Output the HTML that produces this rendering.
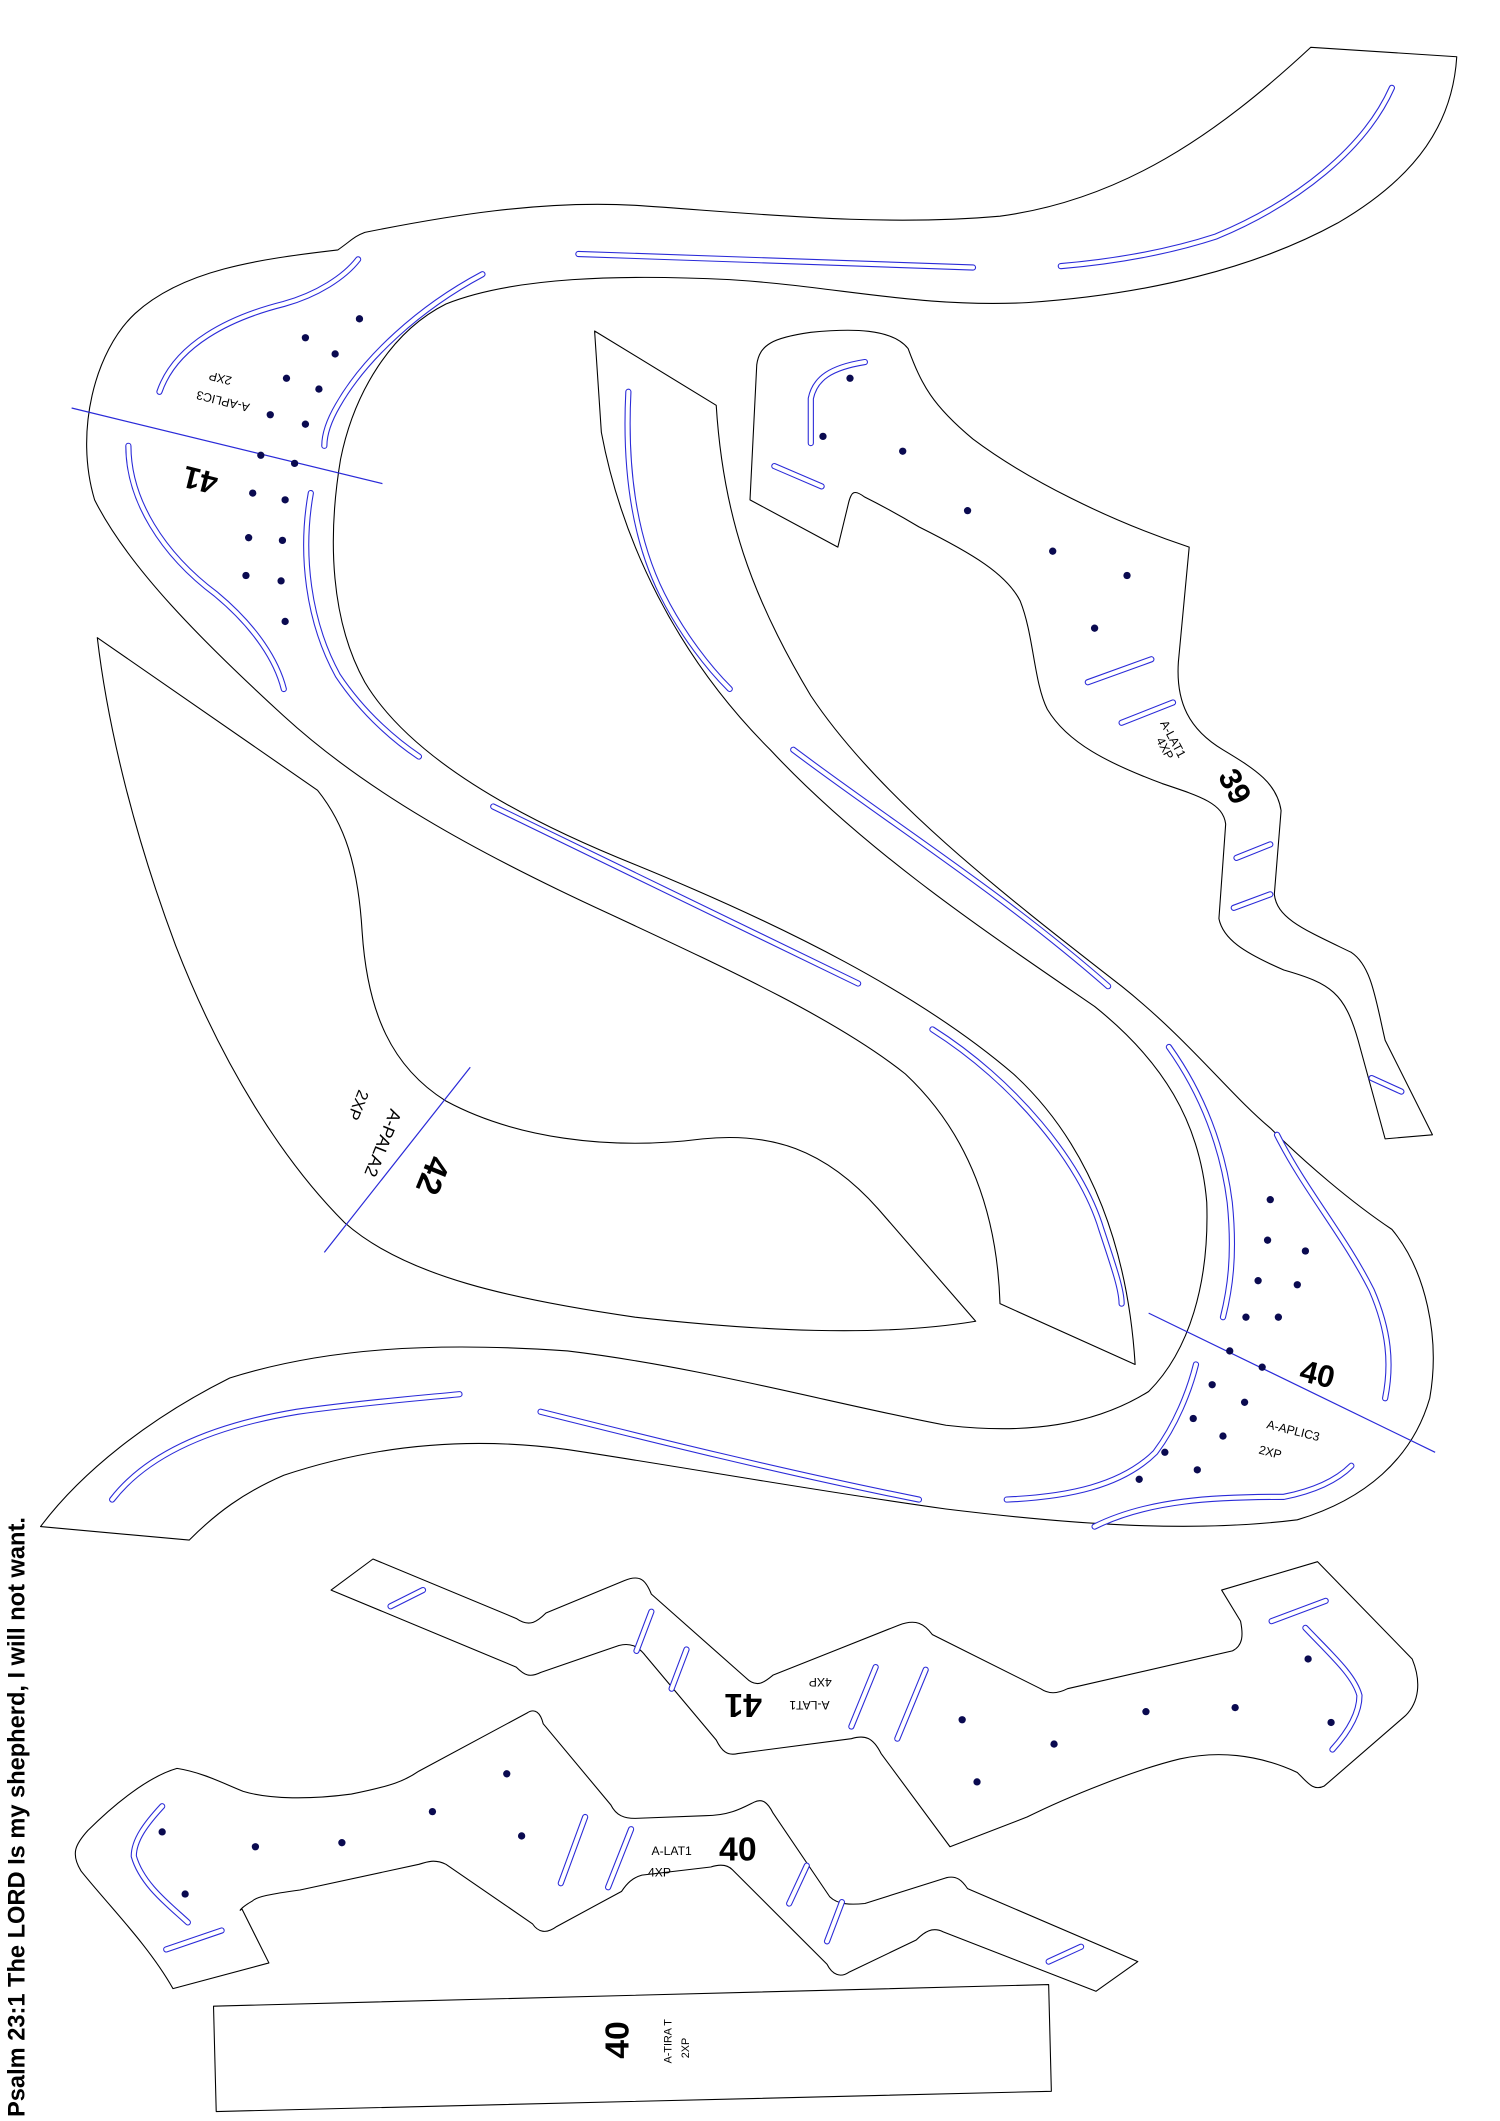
<!DOCTYPE html>
<html><head><meta charset="utf-8"><style>
html,body{margin:0;padding:0;background:#fff;}
svg{display:block;}
text{font-family:"Liberation Sans",Arial,sans-serif;fill:#000;}
</style></head><body>
<svg width="1500" height="2121" viewBox="0 0 1110 1570" preserveAspectRatio="none" xmlns="http://www.w3.org/2000/svg" xmlns:xlink="http://www.w3.org/1999/xlink">
<defs>
<g id="slots" fill="none" stroke-linecap="round" stroke-linejoin="round">
<path d="M1030,65 C1010,110 960,150 900,175 C860,188 820,194 785,197"/>
<path d="M428,188 L720,198"/>
<path d="M118,290 C130,255 170,235 210,225 C235,218 255,205 265,192"/>
<path d="M357,203 C310,228 270,265 250,300 C243,312 240,322 240,330"/>
<path d="M95,330 C95,370 120,410 160,440 C190,465 205,490 210,510"/>
<path d="M230,365 C222,410 228,460 250,500 C270,530 295,550 310,560"/>
<path d="M365,597 L635,728"/>
<path d="M690,762 C750,800 800,860 815,910 C825,940 830,955 830,965"/>
<path d="M83,1110 C110,1075 160,1055 220,1045 C270,1038 310,1035 340,1032"/>
<path d="M400,1045 C480,1065 580,1090 680,1110"/>
<path d="M745,1110 C790,1108 830,1100 855,1075 C870,1055 880,1030 885,1010"/>
<path d="M810,1130 C850,1110 900,1108 950,1108 C975,1103 990,1095 1000,1085"/>
<path d="M945,840 C965,880 995,915 1015,955 C1028,985 1030,1010 1025,1035"/>
<path d="M865,775 C890,810 905,850 910,890 C914,930 910,955 905,975"/>
<path d="M587,555 C660,610 740,660 820,730"/>
<path d="M465,290 C462,350 470,400 490,440 C505,470 525,495 540,510"/>
<path d="M640,268 C615,272 603,280 600,295 L600,328"/>
<path d="M573,345 L608,360"/>
<path d="M805,505 L852,488"/>
<path d="M830,535 L868,520"/>
<path d="M915,635 L940,625"/>
<path d="M913,672 L940,662"/>
<path d="M1015,798 L1037,808"/>
<path d="M289,1189 L313,1177"/>
<path d="M471,1222 L482,1193"/>
<path d="M497,1250 L508,1221"/>
<path d="M630,1278 L648,1234"/>
<path d="M664,1287 L685,1236"/>
<path d="M941,1200 L981,1185"/>
<path d="M966,1205 C985,1225 1002,1240 1006,1255 C1006,1270 995,1285 986,1295"/>
<path d="M120,1337 C108,1350 99,1362 99,1374 C105,1395 125,1410 139,1423"/>
<path d="M123,1443 L164,1429"/>
<path d="M415,1394 L433,1345"/>
<path d="M450,1397 L467,1354"/>
<path d="M584,1409 L597,1381"/>
<path d="M612,1437 L623,1408"/>
<path d="M776,1452 L800,1441"/>
</g>
</defs>
<g fill="none" stroke="#000" stroke-width="0.8" stroke-linejoin="round">
<path d="M970,35 L1078,42 C1075,90 1050,130 990,165 C930,198 850,218 760,224 C680,228 620,212 540,207 C460,203 380,205 330,225 C290,245 262,290 252,340 C242,400 245,460 270,505 C300,555 370,600 470,640 C580,685 680,735 750,795 C810,850 835,930 840,1010 L740,965 C738,900 718,840 670,795 C620,755 540,718 450,676 C350,630 270,585 210,530 C150,475 95,420 70,370 C55,320 70,260 100,232 C135,200 190,192 250,185 C260,178 262,175 270,172 C330,160 400,148 470,152 C560,158 650,168 740,160 C830,148 900,100 970,35 Z"/>
<path d="M30,1130 C60,1090 110,1050 170,1020 C240,998 320,993 420,1000 C520,1012 620,1040 700,1055 C760,1062 810,1055 850,1030 C880,1000 895,950 893,890 C888,830 860,785 810,745 C730,690 640,630 570,555 C500,485 460,400 445,320 L440,245 L530,300 C535,380 555,440 600,515 C650,590 740,660 830,730 C880,770 910,810 940,835 C965,860 1000,890 1030,910 C1055,940 1066,990 1058,1035 C1045,1080 1010,1110 960,1125 C880,1135 790,1128 700,1117 C600,1103 500,1085 420,1073 C340,1062 270,1072 210,1092 C180,1105 160,1120 140,1140 Z"/>
<path d="M555,370 L560,270 C562,255 572,250 600,246 C630,243 660,243 672,258 C682,285 690,300 720,325 C760,355 820,385 880,405 L872,490 C870,520 880,540 905,555 C930,570 945,580 948,600 L943,662 C945,680 965,688 1000,705 C1015,715 1018,740 1025,770 L1060,840 L1025,843 L1005,770 C995,735 985,728 950,718 C920,705 905,695 902,680 L907,610 C905,595 890,590 860,580 C820,565 790,550 775,525 C765,505 765,470 755,445 C745,425 720,410 680,390 C660,378 648,372 640,368 C632,362 630,364 628,372 L620,405 Z"/>
<path d="M72,472 L235,585 C255,610 265,640 268,690 C272,750 290,790 330,815 C380,842 450,852 520,843 C570,838 610,850 650,895 L722,978 C650,990 560,985 470,975 C380,962 300,945 255,905 C210,860 165,790 130,700 C100,620 80,540 72,472 Z"/>
<path d="M276,1154 L382,1198 C392,1205 398,1200 404,1194 L462,1170 C474,1165 478,1170 482,1180 L552,1242 C560,1250 566,1245 572,1240 L665,1203 C678,1198 684,1202 690,1210 L770,1250 C776,1254 782,1254 790,1250 L912,1222 C920,1218 920,1210 918,1200 L904,1177 L975,1156 L1045,1228 C1052,1245 1050,1260 1040,1270 L980,1322 C972,1326 968,1320 960,1312 C930,1298 900,1296 873,1302 C840,1310 790,1330 760,1345 L703,1367 L652,1298 C646,1286 640,1284 630,1287 L546,1298 C538,1300 534,1296 530,1288 L478,1226 C472,1218 466,1216 458,1218 L400,1238 C392,1242 388,1240 382,1234 L245,1177 Z"/>
<path d="M131,1309 C150,1312 165,1320 180,1326 C200,1332 230,1332 260,1328 C290,1322 300,1318 310,1311 L390,1268 C396,1264 400,1268 402,1276 L452,1336 C456,1344 462,1346 470,1346 L522,1344 C540,1344 550,1338 558,1334 C564,1331 568,1334 572,1342 L614,1404 C620,1410 630,1410 640,1409 L700,1390 C708,1388 712,1392 716,1398 L842,1452 L811,1474 L698,1430 C690,1426 684,1430 678,1436 L628,1460 C622,1464 616,1462 612,1454 L542,1384 C538,1380 532,1380 526,1382 L475,1388 C468,1390 464,1394 460,1400 L412,1426 C404,1432 398,1430 394,1424 L330,1380 C322,1376 316,1378 310,1380 L222,1399 C200,1402 190,1404 187,1407 C178,1412 176,1416 179,1413 L199,1453 L128,1472 C110,1440 80,1410 60,1385 C52,1372 56,1365 65,1355 C85,1335 110,1315 131,1309 Z"/>
<path d="M158,1485 L776,1469 L778,1548 L160,1563 Z"/>
</g>

<use href="#slots" xlink:href="#slots" stroke="#2a2ad8" stroke-width="4.6"/>
<use href="#slots" xlink:href="#slots" stroke="#fff" stroke-width="3"/>

<g stroke="#2a2ad8" stroke-width="0.9">
<line x1="53" y1="302" x2="283" y2="358"/>
<line x1="850" y1="972" x2="1062" y2="1075"/>
<line x1="348" y1="790" x2="240" y2="927"/>
</g>

<g fill="#0a0a50">
<circle cx="226" cy="250" r="2.7"/><circle cx="266" cy="236" r="2.7"/><circle cx="248" cy="262" r="2.7"/>
<circle cx="212" cy="280" r="2.7"/><circle cx="236" cy="288" r="2.7"/><circle cx="200" cy="307" r="2.7"/>
<circle cx="226" cy="314" r="2.7"/><circle cx="193" cy="337" r="2.7"/><circle cx="218" cy="343" r="2.7"/>
<circle cx="187" cy="365" r="2.7"/><circle cx="211" cy="370" r="2.7"/><circle cx="184" cy="398" r="2.7"/>
<circle cx="209" cy="400" r="2.7"/><circle cx="182" cy="426" r="2.7"/><circle cx="208" cy="430" r="2.7"/>
<circle cx="211" cy="460" r="2.7"/>
<circle cx="940" cy="888" r="2.7"/><circle cx="938" cy="918" r="2.7"/><circle cx="966" cy="926" r="2.7"/>
<circle cx="931" cy="948" r="2.7"/><circle cx="960" cy="951" r="2.7"/><circle cx="922" cy="975" r="2.7"/>
<circle cx="946" cy="975" r="2.7"/><circle cx="910" cy="1000" r="2.7"/><circle cx="934" cy="1012" r="2.7"/>
<circle cx="897" cy="1025" r="2.7"/><circle cx="921" cy="1038" r="2.7"/><circle cx="883" cy="1050" r="2.7"/>
<circle cx="905" cy="1063" r="2.7"/><circle cx="862" cy="1075" r="2.7"/><circle cx="886" cy="1088" r="2.7"/>
<circle cx="843" cy="1095" r="2.7"/>
<circle cx="629" cy="280" r="2.7"/><circle cx="609" cy="323" r="2.7"/><circle cx="668" cy="334" r="2.7"/>
<circle cx="716" cy="378" r="2.7"/><circle cx="779" cy="408" r="2.7"/><circle cx="834" cy="426" r="2.7"/>
<circle cx="810" cy="465" r="2.7"/>
<circle cx="712" cy="1273" r="2.7"/><circle cx="780" cy="1291" r="2.7"/><circle cx="723" cy="1319" r="2.7"/>
<circle cx="848" cy="1267" r="2.7"/><circle cx="914" cy="1264" r="2.7"/><circle cx="968" cy="1228" r="2.7"/>
<circle cx="985" cy="1275" r="2.7"/>
<circle cx="120" cy="1356" r="2.7"/><circle cx="137" cy="1402" r="2.7"/><circle cx="189" cy="1367" r="2.7"/>
<circle cx="253" cy="1364" r="2.7"/><circle cx="320" cy="1341" r="2.7"/><circle cx="386" cy="1359" r="2.7"/>
<circle cx="375" cy="1313" r="2.7"/>
</g>

<text x="152" y="332" font-size="23" font-weight="bold" text-anchor="middle" transform="rotate(194 152 340)">41</text>
<text x="165" y="300" font-size="9" text-anchor="middle" transform="rotate(194 165 297)">A-APLIC3</text>
<text x="163" y="283" font-size="9" text-anchor="middle" transform="rotate(194 163 280)">2XP</text>

<text x="975" y="1025" font-size="23" font-weight="bold" text-anchor="middle" transform="rotate(14 975 1017)">40</text>
<text x="957" y="1062" font-size="9" text-anchor="middle" transform="rotate(14 957 1059)">A-APLIC3</text>
<text x="940" y="1078" font-size="9" text-anchor="middle" transform="rotate(14 940 1075)">2XP</text>

<text x="914" y="590" font-size="23" font-weight="bold" text-anchor="middle" transform="rotate(62 914 582)">39</text>
<text x="868" y="550" font-size="9" text-anchor="middle" transform="rotate(62 868 547)">A-LAT1</text>
<text x="862" y="557" font-size="9" text-anchor="middle" transform="rotate(62 862 554)">4XP</text>

<text x="320" y="878" font-size="25" font-weight="bold" text-anchor="middle" transform="rotate(112 320 870)">42</text>
<text x="283" y="850" font-size="13" text-anchor="middle" transform="rotate(112 283 846)">A-PALA2</text>
<text x="265" y="822" font-size="12" text-anchor="middle" transform="rotate(112 265 818)">2XP</text>

<text x="550" y="1270" font-size="25" font-weight="bold" text-anchor="middle" transform="rotate(180 550 1262)">41</text>
<text x="599" y="1265" font-size="9" text-anchor="middle" transform="rotate(180 599 1262)">A-LAT1</text>
<text x="607" y="1248" font-size="9" text-anchor="middle" transform="rotate(180 607 1245)">4XP</text>

<text x="546" y="1377" font-size="25" font-weight="bold" text-anchor="middle">40</text>
<text x="497" y="1373" font-size="9" text-anchor="middle">A-LAT1</text>
<text x="488" y="1389" font-size="9" text-anchor="middle">4XP</text>

<text x="457" y="1518" font-size="25" font-weight="bold" text-anchor="middle" transform="rotate(-90 457 1510)">40</text>
<text x="494" y="1514" font-size="8" text-anchor="middle" transform="rotate(-90 494 1511)">A-TIRA T</text>
<text x="510" y="1522" font-size="8" text-anchor="middle" transform="rotate(-90 507 1519)">2XP</text>

<text x="18" y="1567" font-size="17.5" font-weight="bold" transform="rotate(-90 18 1567)">Psalm 23:1 The LORD Is my shepherd, I will not want.</text>
</svg>
</body></html>
